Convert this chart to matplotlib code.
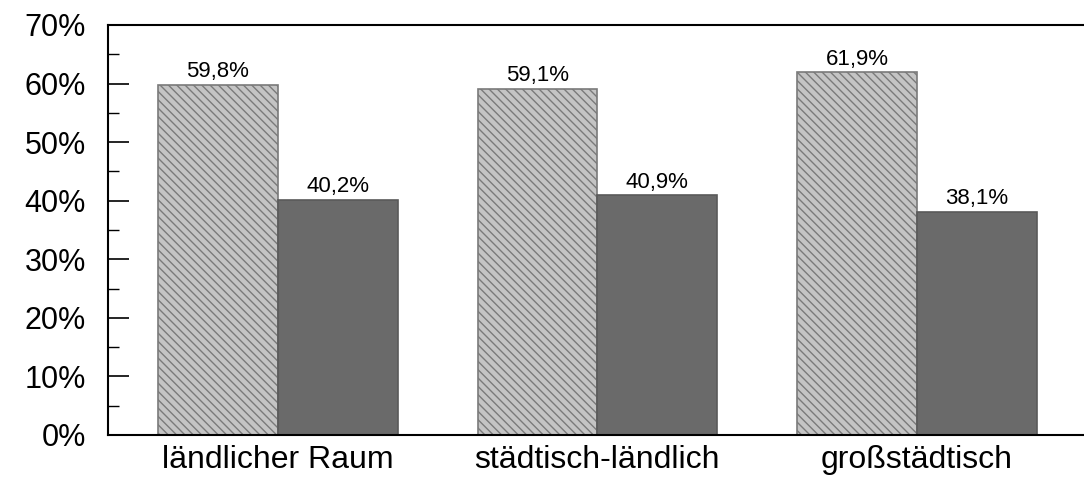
import matplotlib
matplotlib.use("Agg")
from matplotlib import pyplot as plt
import numpy as np

# data
categories = ["ländlicher Raum", "städtisch-ländlich", "großstädtisch"]
share_a = [59.8, 59.1, 61.9]
share_b = [40.2, 40.9, 38.1]
label_a = ["59,8%", "59,1%", "61,9%"]
label_b = ["40,2%", "40,9%", "38,1%"]
yticks = [0, 10, 20, 30, 40, 50, 60, 70]

plt.rcParams['font.family'] = ['Liberation Sans', 'DejaVu Sans']
plt.rcParams['hatch.linewidth'] = 1.0
plt.rcParams['hatch.color'] = '#8a8a8a'

fig = plt.figure(figsize=(10.84, 4.87), dpi=100)
ax = fig.add_axes([0.0996, 0.1068, 0.9004, 0.842])

x = np.arange(len(categories))
w = 0.375

ax.bar(x - w/2, share_a, w, color='#c4c4c4', edgecolor='#7a7a7a',
	linewidth=1.2, hatch='\\\\\\\\')
ax.bar(x + w/2, share_b, w, color='#6a6a6a', edgecolor='#5a5a5a',
	linewidth=1.2)

for i in range(len(categories)):
	ax.text(x[i] - w/2, share_a[i] + 0.4, label_a[i], ha='center', va='bottom', fontsize=16)
	ax.text(x[i] + w/2, share_b[i] + 0.4, label_b[i], ha='center', va='bottom', fontsize=16)

ax.set_xlim(-0.531, 2.522)
ax.set_ylim(0, 70)
ax.set_yticks(yticks)
ax.set_yticklabels([str(t) + "%" for t in yticks], fontsize=22)
ax.set_yticks(np.arange(5, 70, 10), minor=True)
ax.tick_params(axis='y', which='major', direction='in', length=15, width=1.2, pad=16)
ax.tick_params(axis='y', which='minor', direction='in', length=8, width=1.0)

ax.set_xticks(x)
ax.set_xticklabels(categories, fontsize=23)
ax.tick_params(axis='x', length=0, pad=7)

ax.spines['right'].set_visible(False)
for s in ['left', 'top', 'bottom']:
	ax.spines[s].set_linewidth(1.5)

fig.savefig("out.png", dpi=100)
